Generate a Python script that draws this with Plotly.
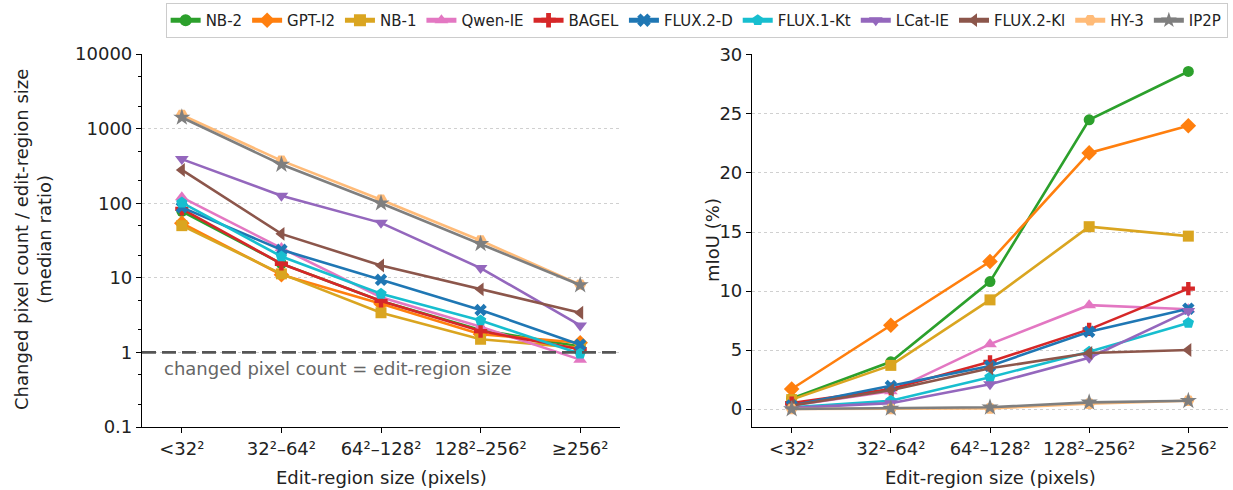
import plotly.graph_objects as go

categories = ["<32²", "32²–64²", "64²–128²", "128²–256²", "≥256²"]
models = ["NB-2", "GPT-I2", "NB-1", "Qwen-IE", "BAGEL", "FLUX.2-D", "FLUX.1-Kt",
          "LCat-IE", "FLUX.2-Kl", "HY-3", "IP2P"]

ratio_nb2 = [78, 15.5, 4.9, 2.0, 1.2]
ratio_gpt = [54, 11, 4.5, 1.75, 1.35]
ratio_nb1 = [50, 11.3, 3.4, 1.5, 1.15]
ratio_qwen = [120, 25, 5.5, 2.2, 0.8]
ratio_bagel = [84, 15.4, 4.9, 1.93, 1.1]
ratio_flux2d = [88, 23.7, 9.4, 3.7, 1.27]
ratio_flux1kt = [102, 19.3, 6.1, 2.68, 0.96]
ratio_lcat = [390, 126, 54.5, 13.5, 2.3]
ratio_flux2kl = [279, 38.8, 14.6, 7.0, 3.4]
ratio_hy3 = [1520, 372, 111, 31.6, 8.1]
ratio_ip2p = [1410, 330, 100, 28.5, 8.0]

miou_nb2 = [0.9, 4.0, 10.8, 24.5, 28.6]
miou_gpt = [1.7, 7.1, 12.5, 21.7, 24.0]
miou_nb1 = [0.8, 3.7, 9.25, 15.45, 14.65]
miou_qwen = [0.3, 1.5, 5.5, 8.8, 8.45]
miou_bagel = [0.5, 1.7, 4.0, 6.75, 10.2]
miou_flux2d = [0.3, 1.95, 3.65, 6.55, 8.5]
miou_flux1kt = [0.15, 0.7, 2.7, 4.85, 7.3]
miou_lcat = [0.1, 0.5, 2.1, 4.35, 8.3]
miou_flux2kl = [0.3, 1.6, 3.45, 4.75, 5.0]
miou_hy3 = [0.0, 0.0, 0.05, 0.45, 0.7]
miou_ip2p = [0.0, 0.05, 0.15, 0.57, 0.7]

left_ticks = [0.1, 1, 10, 100, 1000, 10000]
left_ticktext = ["0.1", "1", "10", "100", "1000", "10000"]
right_ticks = [0, 5, 10, 15, 20, 25, 30]

ratios = [ratio_nb2, ratio_gpt, ratio_nb1, ratio_qwen, ratio_bagel, ratio_flux2d,
          ratio_flux1kt, ratio_lcat, ratio_flux2kl, ratio_hy3, ratio_ip2p]
mious = [miou_nb2, miou_gpt, miou_nb1, miou_qwen, miou_bagel, miou_flux2d,
         miou_flux1kt, miou_lcat, miou_flux2kl, miou_hy3, miou_ip2p]

colors = ["#2ca02c", "#ff7f0e", "#daa520", "#e377c2", "#d62728", "#1f77b4",
          "#17becf", "#9467bd", "#8c564b", "#ffbb78", "#7f7f7f"]
symbols = ["circle", "diamond", "square", "triangle-up", "cross", "x",
           "pentagon", "triangle-down", "triangle-left", "hexagon2", "star"]
sizes = [11, 12, 11, 12, 11, 11, 12, 12, 12, 12, 13]

FONT = "DejaVu Sans"
TXT = "#222222"
W, H = 1233, 490
fig = go.Figure()

for i, m in enumerate(models):
    fig.add_trace(go.Scatter(
        x=categories, y=ratios[i], mode="lines+markers", name=m, legendgroup=m,
        line=dict(color=colors[i], width=2.6),
        marker=dict(symbol=symbols[i], size=sizes[i], color=colors[i]),
        xaxis="x", yaxis="y", showlegend=True))
for i, m in enumerate(models):
    fig.add_trace(go.Scatter(
        x=categories, y=mious[i], mode="lines+markers", name=m, legendgroup=m,
        line=dict(color=colors[i], width=2.6),
        marker=dict(symbol=symbols[i], size=sizes[i], color=colors[i]),
        xaxis="x2", yaxis="y2", showlegend=False))

axis_common = dict(showline=True, linecolor="black", linewidth=1.2,
                   ticks="outside", ticklen=5, tickwidth=1.2, tickcolor="black",
                   tickfont=dict(size=18, color=TXT, family=FONT), zeroline=False,
                   mirror=False, automargin=False)

title_font = dict(size=18, family=FONT, color=TXT)

def ann(text, x, y, angle=0):
    return dict(text=text, xref="paper", yref="paper", x=x / W, y=1 - y / H,
                xanchor="center", yanchor="middle", showarrow=False,
                textangle=angle, font=title_font)

fig.update_layout(
    width=W, height=H,
    margin=dict(l=0, r=0, t=0, b=0, autoexpand=False),
    paper_bgcolor="white", plot_bgcolor="white",
    font=dict(family=FONT, color=TXT),
    xaxis=dict(domain=[142/W, 620/W], anchor="y", type="category",
               range=[-0.4, 4.4], showgrid=False, **axis_common),
    yaxis=dict(domain=[1-427/H, 1-54/H], anchor="x", type="log", range=[-1, 4],
               tickvals=left_ticks, ticktext=left_ticktext,
               showgrid=True, gridcolor="#d0d0d0", griddash="dot", gridwidth=1,
               minor=dict(ticks="outside", ticklen=3, tickcolor="black", showgrid=False),
               **axis_common),
    xaxis2=dict(domain=[752/W, 1228/W], anchor="y2", type="category",
                range=[-0.4, 4.4], showgrid=False, **axis_common),
    yaxis2=dict(domain=[1-427/H, 1-54/H], anchor="x2", range=[-1.52, 30.08],
                tickvals=right_ticks,
                showgrid=True, gridcolor="#d0d0d0", griddash="dot", gridwidth=1,
                **axis_common),
    legend=dict(orientation="h", x=0.565, xanchor="center", y=0.994, yanchor="top",
                bordercolor="#cccccc", borderwidth=1, bgcolor="white",
                font=dict(size=15, family=FONT, color=TXT), itemwidth=30,
                itemsizing="constant", tracegroupgap=0),
    shapes=[dict(type="line", xref="x domain", yref="y", x0=0, x1=1, y0=1, y1=1,
                 line=dict(color="#555555", width=2.6, dash="14px,6px"), layer="above")],
    annotations=[
        dict(text="changed pixel count = edit-region size", xref="x", yref="y",
             x=-0.2, y=-0.05, xanchor="left", yanchor="top", showarrow=False,
             font=dict(size=18, color="#666666", family=FONT)),
        ann("Changed pixel count / edit-region size<br>(median ratio)", 33, 240, -90),
        ann("Edit-region size (pixels)", 381, 477),
        ann("Edit-region size (pixels)", 990, 477),
        ann("mIoU (%)", 712, 240, -90),
    ],
)

fig.write_html("out.html")
